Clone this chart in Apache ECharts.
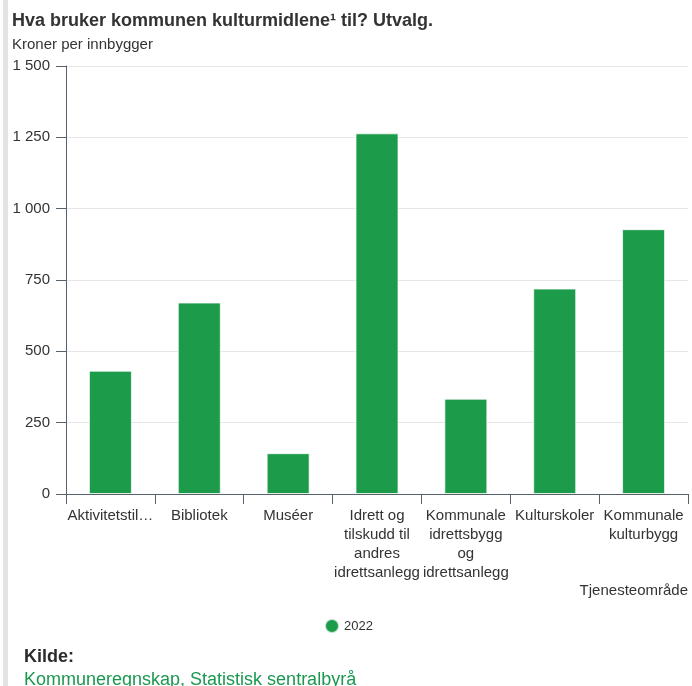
<!DOCTYPE html>
<html>
<head>
<meta charset="utf-8">
<script src="https://cdn.jsdelivr.net/npm/echarts@6/dist/echarts.min.js"></script>
<style>
  html, body { margin: 0; padding: 0; background: #fff; }
  .side-bar { position: absolute; left: 3px; top: 0; width: 5px; height: 686px; background: #e3e3e3; }
  #chart { width: 692px; height: 686px; }
</style>
</head>
<body>
<div class="side-bar"></div>
<div id="chart"></div>
<script>
// tjenesteområder
const categories = [
  'Aktivitetstilbud barn og unge',
  'Bibliotek',
  'Muséer',
  'Idrett og tilskudd til andres idrettsanlegg',
  'Kommunale idrettsbygg og idrettsanlegg',
  'Kulturskoler',
  'Kommunale kulturbygg'
];
// slik etikettene vises under aksen
const tickLabels = [
  'Aktivitetstil…',
  'Bibliotek',
  'Muséer',
  'Idrett og\ntilskudd til\nandres\nidrettsanlegg',
  'Kommunale\nidrettsbygg\nog\nidrettsanlegg',
  'Kulturskoler',
  'Kommunale\nkulturbygg'
];
// kroner per innbygger, 2022
const values2022 = [432, 671, 143, 1264, 334, 720, 928];
const yTicks = [0, 250, 500, 750, 1000, 1250, 1500];

const green = '#1c9c4a';
const axisGray = '#56626b';

let myChart = echarts.init(document.getElementById('chart'));
myChart.setOption({
  animation: false,
  textStyle: { fontFamily: 'Liberation Sans, Arial, sans-serif' },
  title: [
    {
      text: 'Hva bruker kommunen kulturmidlene¹ til? Utvalg.',
      left: 12, top: 12, padding: 0,
      textStyle: { fontSize: 18, fontWeight: 'bold', color: '#333' }
    },
    {
      text: 'Kroner per innbygger',
      left: 12, top: 37, padding: 0,
      textStyle: { fontSize: 15, fontWeight: 'normal', color: '#333' }
    },
    {
      text: 'Tjenesteområde',
      right: 4, top: 583, padding: 0,
      textStyle: { fontSize: 15, fontWeight: 'normal', color: '#333' }
    },
    {
      text: 'Kilde:',
      left: 24, top: 648, padding: 0,
      textStyle: { fontSize: 18, fontWeight: 'bold', color: '#2b2b2b' }
    },
    {
      text: 'Kommuneregnskap, Statistisk sentralbyrå',
      left: 24, top: 671, padding: 0,
      textStyle: { fontSize: 18, fontWeight: 'normal', color: '#1a9850' }
    }
  ],
  legend: {
    data: ['2022'],
    left: 324, top: 618, padding: 0,
    icon: 'circle',
    itemWidth: 14, itemHeight: 14,
    itemGap: 6,
    textStyle: { fontSize: 13, color: '#333' }
  },
  grid: { left: 66, right: 4, top: 66, bottom: 192 },
  xAxis: {
    type: 'category',
    data: categories,
    axisLine: { lineStyle: { color: axisGray, width: 1 } },
    axisTick: { show: true, length: 10, lineStyle: { color: axisGray } },
    axisLabel: {
      interval: 0,
      margin: 12,
      fontSize: 15,
      lineHeight: 19,
      color: '#333',
      formatter: (value, idx) => tickLabels[idx]
    }
  },
  yAxis: {
    type: 'value',
    min: yTicks[0],
    max: yTicks[yTicks.length - 1],
    interval: 250,
    axisLine: { show: true, lineStyle: { color: axisGray, width: 1 } },
    axisTick: { show: true, length: 10, lineStyle: { color: axisGray } },
    splitLine: { lineStyle: { color: '#e6e6e6' } },
    axisLabel: {
      margin: 16,
      fontSize: 15,
      color: '#333',
      formatter: v => String(v).replace(/\B(?=(\d{3})+(?!\d))/g, ' ')
    }
  },
  series: [
    {
      name: '2022',
      type: 'bar',
      data: values2022,
      barWidth: 43,
      itemStyle: { color: green, borderColor: 'rgba(255,255,255,0.7)', borderWidth: 1 }
    }
  ]
});
</script>
</body>
</html>
